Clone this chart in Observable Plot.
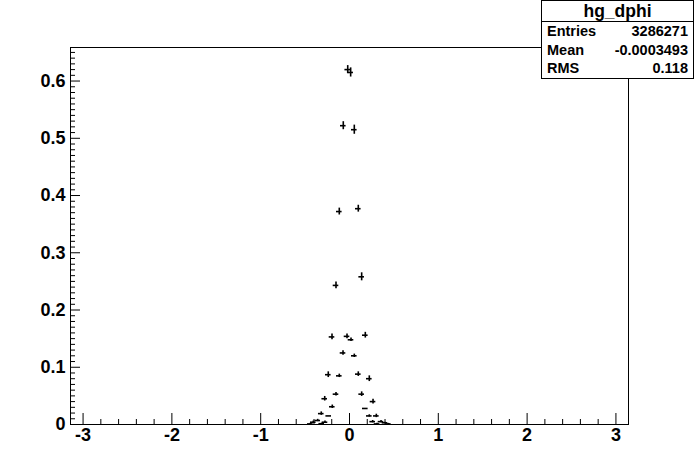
<!DOCTYPE html>
<html><head><meta charset="utf-8">
<script src="https://cdn.jsdelivr.net/npm/d3@7"></script>
<script src="https://cdn.jsdelivr.net/npm/@observablehq/plot@0.6"></script>
<style>
body{margin:0;background:#fff;}
#wrap{position:relative;width:696px;height:472px;}
#stats{position:absolute;left:541px;top:0px;width:153px;height:79px;border:1px solid #000;background:#fff;
  font-family:"Liberation Sans",Arial,Helvetica,sans-serif;font-weight:bold;color:#000;box-sizing:border-box;}
#stats .title{height:20px;line-height:20px;text-align:center;font-size:17.5px;border-bottom:1px solid #000;}
#stats .row{display:flex;justify-content:space-between;height:18.7px;line-height:18.7px;font-size:14.5px;padding:0 5px 0 5px;}
</style>
</head><body>
<div id="wrap"><div id="chart"></div>
<div id="stats">
  <div class="title" id="st-title"></div>
  <div id="st-rows"></div>
</div></div>
<script>
// ---- data ----
const histName = "hg_dphi";
const statLabels = ["Entries", "Mean", "RMS"];
const statValues = ["3286271", "-0.0003493", "0.118"];

const xTicks = [-3, -2, -1, 0, 1, 2, 3];
const xTickLabels = ["-3", "-2", "-1", "0", "1", "2", "3"];
const yTicks = [0, 0.1, 0.2, 0.3, 0.4, 0.5, 0.6];
const yTickLabels = ["0", "0.1", "0.2", "0.3", "0.4", "0.5", "0.6"];

const dphiX = [-0.020, 0.013, -0.070, 0.054, -0.115, 0.099, -0.152, 0.137,
  -0.197, -0.028, 0.017, 0.178, -0.073, 0.054, -0.239, -0.115, 0.099, 0.223,
  -0.152, 0.137, -0.279, 0.265, -0.194, 0.178, -0.318, -0.234, 0.223, 0.302,
  -0.358, -0.408, -0.276, -0.313, 0.261, 0.355, 0.400, 0.310, 0.437, -0.441];
const dphiY = [0.620, 0.615, 0.522, 0.515, 0.372, 0.377, 0.243, 0.258,
  0.153, 0.154, 0.148, 0.156, 0.125, 0.120, 0.087, 0.085, 0.088, 0.080,
  0.053, 0.053, 0.045, 0.040, 0.031, 0.028, 0.019, 0.015, 0.015, 0.015,
  0.007, 0.004, 0.004, 0.0014, 0.005, 0.005, 0.003, 0.001, 0.001, 0.001];
const dphiErr = [0.007, 0.008, 0.007, 0.008, 0.006, 0.006, 0.006, 0.007,
  0.005, 0.004, 0.003, 0.005, 0.004, 0.003, 0.005, 0.003, 0.004, 0.005,
  0.003, 0.004, 0.004, 0.004, 0.003, 0.0, 0.003, 0.0, 0.002, 0.003,
  0.002, 0.002, 0.002, 0.001, 0.002, 0.002, 0.001, 0.001, 0.001, 0.001];

const xDomain = [-Math.PI, Math.PI];
const yDomain = [0, 0.6586];

// ---- build ----
const points = dphiX.map((x, i) => ({x, y: dphiY[i], e: dphiErr[i]}));
const xMinor = d3.range(-30, 31, 2).map(v => v / 10).filter(v => !xTicks.includes(v));
const yMinor = d3.range(0, 66, 1).map(v => v / 100).filter(v => v * 10 % 1 !== 0 && v <= yDomain[1]);

const W = 696, H = 472, mL = 70, mR = 68, mT = 47, mB = 48;
const plotW = W - mL - mR, plotH = H - mT - mB;
const font = "Liberation Sans, Arial, Helvetica, sans-serif";

const chart = Plot.plot({
  width: W, height: H,
  marginLeft: mL, marginRight: mR, marginTop: mT, marginBottom: mB,
  x: {domain: xDomain},
  y: {domain: yDomain},
  style: {fontFamily: font, background: "#fff", color: "#000"},
  marks: [
    Plot.frame({stroke: "#000", strokeWidth: 1}),
    Plot.ruleX(xTicks, {x: d => d, insetTop: plotH - 11, stroke: "#000"}),
    Plot.ruleX(xMinor, {x: d => d, insetTop: plotH - 5, stroke: "#000"}),
    Plot.ruleY(yTicks, {y: d => d, insetRight: plotW - 10, stroke: "#000"}),
    Plot.ruleY(yMinor, {y: d => d, insetRight: plotW - 5, stroke: "#000"}),
    Plot.axisX({ticks: xTicks, tickFormat: d => xTickLabels[xTicks.indexOf(d)], tickSize: 0, tickPadding: 4,
      label: null, fontSize: 18, fontWeight: "bold", fontFamily: font}),
    Plot.axisY({ticks: yTicks, tickFormat: d => yTickLabels[yTicks.indexOf(d)], tickSize: 0, tickPadding: 5,
      label: null, fontSize: 18, fontWeight: "bold", fontFamily: font}),
    Plot.ruleX(points, {x: "x", y1: d => d.y - d.e, y2: d => d.y + d.e, stroke: "#000", strokeWidth: 1.6}),
    Plot.ruleY(points, {y: "y", x1: "x", x2: "x", insetLeft: -2.8, insetRight: -2.8, stroke: "#000", strokeWidth: 1.6})
  ]
});
document.getElementById("chart").appendChild(chart);

document.getElementById("st-title").textContent = histName;
const rows = document.getElementById("st-rows");
statLabels.forEach((l, i) => {
  const r = document.createElement("div"); r.className = "row";
  const a = document.createElement("span"); a.textContent = l;
  const b = document.createElement("span"); b.textContent = statValues[i];
  r.appendChild(a); r.appendChild(b); rows.appendChild(r);
});
</script>
</body></html>
